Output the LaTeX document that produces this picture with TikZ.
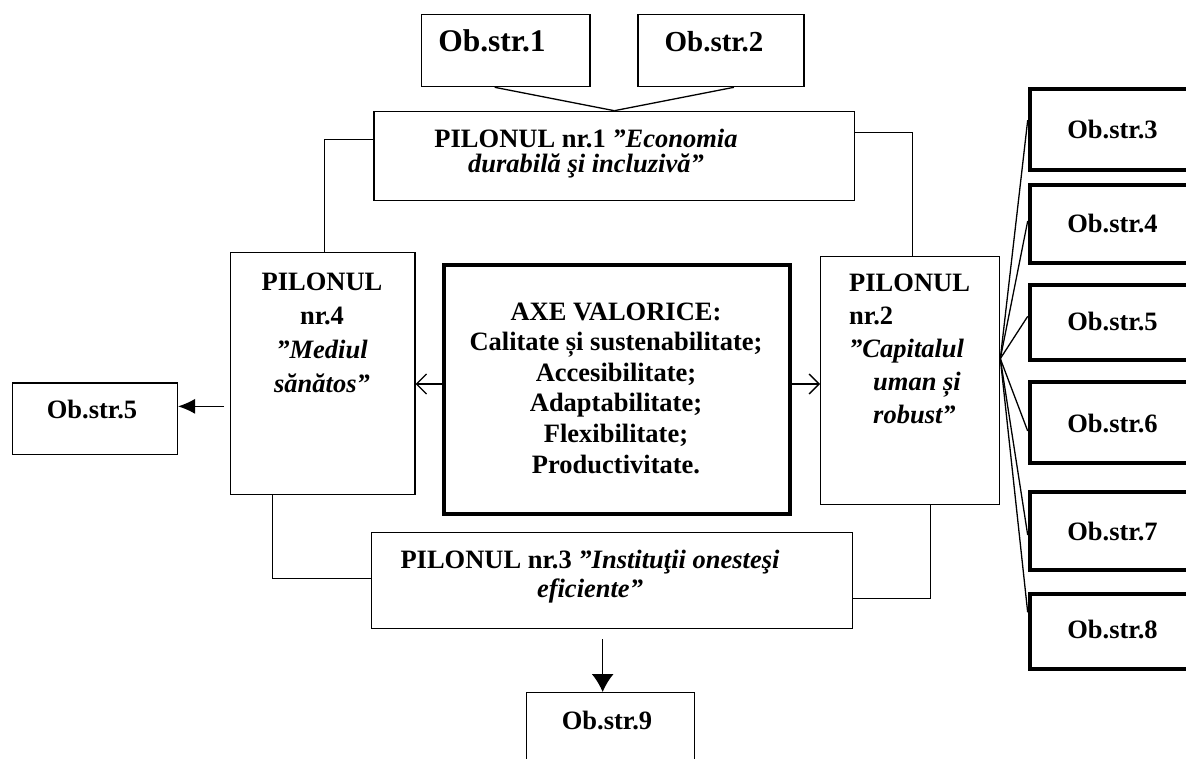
\documentclass[tikz,border=0pt]{standalone}
\usepackage{fontspec}
\setmainfont{Liberation Serif}
\usetikzlibrary{arrows.meta}
\begin{document}
\begin{tikzpicture}[x=1pt,y=-1pt,
  box/.style={draw, line width=1.3pt, rectangle, inner sep=0pt, anchor=north west},
  tbox/.style={draw, line width=4pt, rectangle, inner sep=0pt, anchor=north west},
  lbl/.style={font=\fontsize{26.5}{33}\selectfont\bfseries, inner sep=0pt, anchor=base, align=center},
  biglbl/.style={font=\fontsize{30}{33}\selectfont\bfseries, inner sep=0pt, anchor=base},
  conn/.style={line width=1.3pt},
  openhead/.style={conn, -{Straight Barb[length=10pt,width=20pt,line width=1.3pt]}},
  fillhead/.style={conn, -{Latex[length=17pt,width=15pt]}}
]
\useasboundingbox (0,0) rectangle (1186,758);
\clip (0,0) rectangle (1186,758);

% top objective boxes
\node[box, minimum width=168.6pt, minimum height=72pt] (o1) at (420.7,14) {};
\node[box, minimum width=166pt, minimum height=72pt] (o2) at (637.3,14) {};
\node[biglbl, font=\fontsize{31.5}{33}\selectfont\bfseries] (o1t) at (492,51) {Ob.str.1};
\node[biglbl, font=\fontsize{29}{33}\selectfont\bfseries] (o2t) at (714,51) {Ob.str.2};

% pillars
\node[box, minimum width=480.7pt, minimum height=89.3pt] (p1) at (373.3,110.7) {};
\node[box, minimum width=179pt, minimum height=248pt] (p2) at (820,256) {};
\node[box, minimum width=481pt, minimum height=96pt] (p3) at (371,532) {};
\node[box, minimum width=184.3pt, minimum height=242pt] (p4) at (230,252) {};

% (base anchor of a multi-line text = baseline of its last line)
\node[lbl, font=\fontsize{26.5}{25}\selectfont\bfseries] (p1t) at (586,172) {PILONUL nr.1 \textit{”Economia}\\\textit{durabilă şi incluzivă”}};
\node[lbl, anchor=base west, align=left] (p2t) at (849,423) {PILONUL\\nr.2\\\textit{”Capitalul}\\\hspace*{24pt}\textit{uman și}\\\hspace*{24pt}\textit{robust”}};
\node[lbl, font=\fontsize{26.5}{29}\selectfont\bfseries] (p3t) at (590,597) {PILONUL nr.3 \textit{”Instituţii onesteşi}\\\textit{eficiente”}};
\node[lbl, font=\fontsize{26.5}{34}\selectfont\bfseries] (p4t) at (322,392) {PILONUL\\nr.4\\\textit{”Mediul}\\\textit{sănătos”}};

% central box
\node[tbox, minimum width=346pt, minimum height=249pt] (ax) at (442,263) {};
\node[lbl, font=\fontsize{26.5}{30.6}\selectfont\bfseries] (axt) at (616,473) {AXE VALORICE:\\Calitate și sustenabilitate;\\Accesibilitate;\\Adaptabilitate;\\Flexibilitate;\\Productivitate.};

% right objective boxes
\node[tbox, minimum width=172pt, minimum height=81pt] (o3) at (1027.7,86.7) {};
\node[tbox, minimum width=172pt, minimum height=78pt] (o4) at (1027.7,183) {};
\node[tbox, minimum width=172pt, minimum height=75.3pt] (o5) at (1027.7,282.7) {};
\node[tbox, minimum width=172pt, minimum height=81pt] (o6) at (1027.7,380) {};
\node[tbox, minimum width=172pt, minimum height=78pt] (o7) at (1027.7,490) {};
\node[tbox, minimum width=172pt, minimum height=75.3pt] (o8) at (1027.7,591.7) {};
\node[lbl] (o3t) at (1112.5,138) {Ob.str.3};
\node[lbl] (o4t) at (1112.5,232) {Ob.str.4};
\node[lbl] (o5t) at (1112.5,330) {Ob.str.5};
\node[lbl] (o6t) at (1112.5,432) {Ob.str.6};
\node[lbl] (o7t) at (1112.5,540) {Ob.str.7};
\node[lbl] (o8t) at (1112.5,638) {Ob.str.8};

% left and bottom objective boxes
\node[box, minimum width=165pt, minimum height=71.7pt] (o5l) at (11.7,382.3) {};
\node[lbl] (o5lt) at (92,418) {Ob.str.5};
\node[box, minimum width=168pt, minimum height=100pt] (o9) at (526,692) {};
\node[lbl] (o9t) at (607,729) {Ob.str.9};

% connectors
\draw[conn] ([xshift=-11pt]o1.south) -- (p1.north);
\draw[conn] ([xshift=13pt]o2.south) -- (p1.north);
\draw[conn] ([yshift=16.5pt]p1.west) -| ([xshift=2pt]p4.north);
\draw[conn] ([yshift=23.5pt]p1.east) -| ([xshift=2.5pt]p2.north);
\draw[conn] ([xshift=-50pt]p4.south) |- ([yshift=2pt]p3.west);
\draw[conn] ([xshift=20.5pt]p2.south) |- ([yshift=-18pt]p3.east);

\draw[openhead] ([yshift=5.5pt]ax.west) -- ([yshift=5.5pt]ax.west -| p4.east);
\draw[openhead] ([yshift=5.5pt]ax.east) -- ([yshift=5.5pt]ax.east -| p2.west);

\draw[fillhead, shorten <=6pt] ([yshift=-32.7pt]p4.west) -- ([yshift=-32.7pt]p4.west -| o5l.east);
\draw[conn, -{Latex[length=18pt,width=22pt]}] ([xshift=-9.5pt,yshift=-10pt]p3.south) -- ([xshift=-9.5pt]p3.south |- o9.north);

\coordinate (fan) at ([yshift=22pt]p2.east);
\draw[conn] (fan) -- ([yshift=9pt]o3.west);
\draw[conn] (fan) -- ([yshift=3pt]o4.west);
\draw[conn] (fan) -- ([yshift=6pt]o5.west);
\draw[conn] (fan) -- ([yshift=-8.5pt]o6.west);
\draw[conn] (fan) -- ([yshift=-4pt]o7.west);
\draw[conn] (fan) -- ([yshift=19pt]o8.west);
\end{tikzpicture}
\end{document}
